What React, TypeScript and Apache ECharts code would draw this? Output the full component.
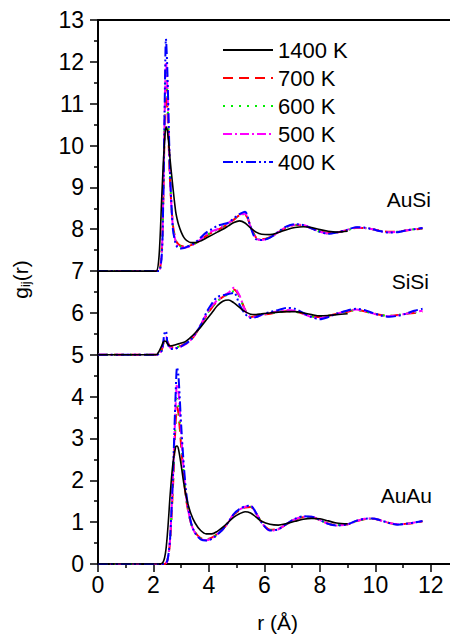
import { useEffect, useRef } from 'react';
import * as echarts from 'echarts';

// r grid (Å) shared by all curves; 1400 K curves stop at 9.0 Å
const R = [
  0, 2.0, 2.1, 2.2, 2.3,
  2.35, 2.4, 2.45, 2.5, 2.55, 2.6, 2.7, 2.8, 2.85, 2.9,
  3.0, 3.1, 3.2, 3.35, 3.5, 3.7, 3.9, 4.1, 4.3, 4.5,
  4.7, 4.9, 5.1, 5.3, 5.5, 5.7, 5.9, 6.2, 6.5, 6.8,
  7.1, 7.4, 7.7, 8.0, 8.3, 8.6, 9.0,
  9.3, 9.6, 9.9, 10.2, 10.5, 10.8, 11.1, 11.4, 11.7,
];

const TEMPS = ['1400 K', '700 K', '600 K', '500 K', '400 K'];

// AuSi (shifted by +7 in the figure)
const AUSI_1400 = [
  7, 7, 7, 7.35, 8.8,
  9.5, 10.1, 10.45, 10.35, 10.05, 9.66, 9.0, 8.42, 8.25, 8.12,
  7.93, 7.8, 7.73, 7.68, 7.68, 7.72, 7.79, 7.86, 7.93, 8.0,
  8.08, 8.16, 8.2, 8.15, 8.03, 7.93, 7.88, 7.87, 7.92, 7.99,
  8.04, 8.06, 8.04, 7.99, 7.95, 7.93, 7.95,
];
const AUSI_700 = [
  7, 7, 7, 7.0, 7.5,
  8.6, 10.3, 11.4, 10.9, 10.0, 9.1, 8.1, 7.75, 7.68, 7.64,
  7.6, 7.59, 7.6, 7.62, 7.66, 7.74, 7.84, 7.92, 7.98, 8.05,
  8.13, 8.23, 8.33, 8.34, 8.08, 7.8, 7.76, 7.81, 7.93, 8.04,
  8.1, 8.09, 8.02, 7.95, 7.91, 7.92, 7.98,
  8.03, 8.03, 8.0, 7.96, 7.94, 7.94, 7.97, 7.99, 8.02,
];
const AUSI_600 = [
  7, 7, 7, 7.0, 7.5,
  8.7, 10.5, 11.8, 11.2, 10.2, 9.2, 8.1, 7.72, 7.65, 7.62,
  7.58, 7.57, 7.58, 7.61, 7.66, 7.75, 7.85, 7.93, 7.99, 8.06,
  8.14, 8.24, 8.34, 8.36, 8.07, 7.79, 7.75, 7.8, 7.93, 8.05,
  8.1, 8.09, 8.02, 7.94, 7.9, 7.92, 7.98,
  8.04, 8.03, 8.0, 7.96, 7.93, 7.94, 7.97, 8.0, 8.02,
];
const AUSI_500 = [
  7, 7, 7, 7.0, 7.45,
  8.7, 10.6, 12.0, 11.4, 10.3, 9.2, 8.05, 7.7, 7.63, 7.6,
  7.57, 7.56, 7.57, 7.6, 7.66, 7.76, 7.87, 7.95, 8.0, 8.07,
  8.15, 8.25, 8.35, 8.37, 8.06, 7.78, 7.74, 7.8, 7.93, 8.06,
  8.11, 8.1, 8.02, 7.94, 7.9, 7.92, 7.99,
  8.04, 8.03, 8.0, 7.95, 7.93, 7.94, 7.97, 8.0, 8.03,
];
const AUSI_400 = [
  7, 7, 7, 7.0, 7.4,
  8.6, 10.8, 12.55, 11.8, 10.5, 9.3, 8.0, 7.65, 7.58, 7.55,
  7.54, 7.55, 7.58, 7.62, 7.68, 7.8, 7.92, 8.0, 8.08, 8.12,
  8.16, 8.26, 8.36, 8.42, 8.05, 7.76, 7.74, 7.8, 7.94, 8.07,
  8.12, 8.1, 8.02, 7.94, 7.89, 7.92, 7.99,
  8.05, 8.04, 8.0, 7.95, 7.92, 7.93, 7.97, 8.0, 8.03,
];

// SiSi (shifted by +5 in the figure)
const SISI_1400 = [
  5, 5, 5, 5.08, 5.22,
  5.3, 5.33, 5.32, 5.27, 5.23, 5.21, 5.22, 5.24, 5.25, 5.26,
  5.28, 5.3, 5.34, 5.42, 5.52, 5.66, 5.83, 6.0, 6.17, 6.28,
  6.31, 6.24, 6.13, 6.03, 5.97, 5.96, 5.98, 6.0, 6.02, 6.03,
  6.03, 6.0, 5.96, 5.93, 5.94, 5.96, 5.98,
];
const SISI_700 = [
  5, 5, 5, 5.02, 5.12,
  5.25, 5.35, 5.38, 5.32, 5.25, 5.2, 5.18, 5.18, 5.19, 5.2,
  5.22, 5.25, 5.28, 5.36, 5.48, 5.7, 5.93, 6.12, 6.28, 6.38,
  6.47, 6.56, 6.4, 6.08, 5.9, 5.92, 5.95, 5.98, 6.02, 6.04,
  6.03, 5.98, 5.92, 5.9, 5.93, 5.98, 6.03,
  6.07, 6.04, 5.99, 5.95, 5.93, 5.95, 5.98, 6.0, 6.02,
];
const SISI_600 = [
  5, 5, 5, 5.02, 5.12,
  5.26, 5.37, 5.4, 5.32, 5.24, 5.19, 5.17, 5.17, 5.18, 5.19,
  5.21, 5.24, 5.28, 5.36, 5.49, 5.71, 5.94, 6.13, 6.28, 6.37,
  6.45, 6.52, 6.38, 6.07, 5.91, 5.92, 5.96, 5.99, 6.02, 6.04,
  6.03, 5.98, 5.92, 5.9, 5.93, 5.98, 6.04,
  6.07, 6.04, 5.99, 5.95, 5.93, 5.95, 5.98, 6.01, 6.03,
];
const SISI_500 = [
  5, 5, 5, 5.02, 5.11,
  5.26, 5.4, 5.43, 5.31, 5.22, 5.17, 5.16, 5.16, 5.17, 5.18,
  5.2, 5.23, 5.27, 5.36, 5.49, 5.72, 5.96, 6.16, 6.3, 6.4,
  6.48, 6.6, 6.42, 6.07, 5.9, 5.91, 5.95, 6.0, 6.04, 6.07,
  6.05, 5.98, 5.9, 5.88, 5.92, 5.98, 6.05,
  6.08, 6.05, 5.99, 5.94, 5.92, 5.94, 5.98, 6.02, 6.05,
];
const SISI_400 = [
  5, 5, 5, 5.02, 5.1,
  5.3, 5.52, 5.57, 5.3, 5.2, 5.15, 5.14, 5.15, 5.16, 5.17,
  5.2, 5.24, 5.28, 5.36, 5.5, 5.7, 6.0, 6.22, 6.38, 6.42,
  6.45, 6.48, 6.2, 5.98, 5.88, 5.9, 5.96, 6.02, 6.07, 6.12,
  6.1, 6.0, 5.9, 5.85, 5.9, 5.98, 6.06,
  6.1, 6.07, 6.0, 5.94, 5.91, 5.93, 5.98, 6.05, 6.1,
];

// AuAu (no shift)
const AUAU_1400 = [
  0, 0, 0, 0, 0.01,
  0.05, 0.15, 0.35, 0.7, 1.15, 1.65, 2.4, 2.8, 2.82, 2.75,
  2.35, 1.9, 1.55, 1.2, 0.98, 0.8, 0.72, 0.72, 0.78, 0.88,
  1.0, 1.12, 1.2, 1.25, 1.22, 1.12, 1.02, 0.95, 0.93, 0.97,
  1.02, 1.07, 1.09, 1.08, 1.03, 0.98, 0.96,
];
const AUAU_700 = [
  0, 0, 0, 0, 0,
  0, 0, 0.02, 0.08, 0.25, 0.55, 1.8, 3.4, 3.75, 3.6,
  2.8, 2.0, 1.45, 0.98, 0.76, 0.62, 0.59, 0.63, 0.72, 0.83,
  1.0, 1.18, 1.28, 1.35, 1.36, 1.2, 1.0, 0.82, 0.84, 0.95,
  1.06, 1.12, 1.12, 1.05, 0.97, 0.93, 0.95,
  1.02, 1.07, 1.08, 1.04, 0.98, 0.95, 0.96, 0.98, 1.02,
];
const AUAU_600 = [
  0, 0, 0, 0, 0,
  0, 0, 0.02, 0.08, 0.26, 0.58, 1.9, 3.55, 3.95, 3.8,
  2.95, 2.08, 1.48, 0.98, 0.75, 0.61, 0.58, 0.62, 0.71, 0.83,
  1.0, 1.19, 1.29, 1.36, 1.37, 1.2, 0.99, 0.81, 0.84, 0.96,
  1.07, 1.13, 1.12, 1.05, 0.96, 0.93, 0.95,
  1.02, 1.07, 1.08, 1.04, 0.98, 0.95, 0.96, 0.99, 1.02,
];
const AUAU_500 = [
  0, 0, 0, 0, 0,
  0, 0, 0.02, 0.08, 0.27, 0.6, 2.0, 3.8, 4.3, 4.15,
  3.1, 2.15, 1.5, 0.98, 0.74, 0.6, 0.57, 0.61, 0.71, 0.83,
  1.0, 1.2, 1.3, 1.37, 1.38, 1.21, 0.99, 0.8, 0.83, 0.96,
  1.07, 1.13, 1.13, 1.05, 0.96, 0.92, 0.95,
  1.02, 1.08, 1.09, 1.04, 0.98, 0.95, 0.96, 0.99, 1.02,
];
const AUAU_400 = [
  0, 0, 0, 0, 0,
  0, 0, 0.02, 0.08, 0.28, 0.62, 2.1, 4.1, 4.7, 4.5,
  3.3, 2.3, 1.6, 1.0, 0.74, 0.59, 0.56, 0.6, 0.7, 0.83,
  1.0, 1.2, 1.31, 1.38, 1.39, 1.22, 0.99, 0.8, 0.83, 0.96,
  1.08, 1.14, 1.13, 1.05, 0.96, 0.92, 0.95,
  1.03, 1.08, 1.09, 1.04, 0.98, 0.94, 0.96, 0.99, 1.03,
];

const GROUP_LABELS = ['AuSi', 'SiSi', 'AuAu'];
const GROUPS = [
  [AUSI_1400, AUSI_700, AUSI_600, AUSI_500, AUSI_400],
  [SISI_1400, SISI_700, SISI_600, SISI_500, SISI_400],
  [AUAU_1400, AUAU_700, AUAU_600, AUAU_500, AUAU_400],
];

const X_TICKS = [0, 2, 4, 6, 8, 10, 12];

const FONT = '"Liberation Sans", Arial, sans-serif';

const STYLES: any[] = [
  { color: '#000000', width: 1.6, type: 'solid', z: 5 },
  { color: '#ff0000', width: 2, type: [10, 6], z: 2 },
  { color: '#00ee00', width: 2, type: [2, 6], z: 2 },
  { color: '#ff00ff', width: 2, type: [9, 3, 2, 3], z: 2 },
  { color: '#0000ff', width: 2, type: [10, 3, 2, 3, 2, 3], z: 3 },
];

export default function App() {
  const ref = useRef<HTMLDivElement>(null);

  useEffect(() => {
    document.body.style.margin = '0';
    if (!ref.current) return;
    const chart = echarts.init(ref.current, undefined, { renderer: 'svg' });

    const series: any[] = [];
    GROUPS.forEach((curves) => {
      curves.forEach((vals, ti) => {
        const st = STYLES[ti];
        series.push({
          type: 'line',
          name: TEMPS[ti],
          data: vals.map((v, i) => [R[i], v]),
          symbol: 'none',
          showSymbol: false,
          smooth: 0.3,
          z: st.z,
          lineStyle: { color: st.color, width: st.width, type: st.type },
          itemStyle: { color: st.color },
          emphasis: { disabled: true },
        });
      });
    });

    const unit = 27.74;

    chart.setOption({
      animation: false,
      backgroundColor: '#ffffff',
      grid: { left: 98, top: 20, width: 14 * unit, height: 546, containLabel: false },
      legend: {
        data: TEMPS,
        orient: 'vertical',
        left: 222,
        top: 39,
        padding: 0,
        itemWidth: 50,
        itemHeight: 14,
        itemGap: 6,
        selectedMode: false,
        itemStyle: { opacity: 0 },
        textStyle: { fontSize: 22, fontFamily: FONT, color: '#000', lineHeight: 21 },
      },
      xAxis: [
        {
          type: 'value',
          min: 0,
          max: 14,
          interval: 2,
          name: 'r (Å)',
          nameLocation: 'middle',
          nameGap: 48,
          nameTextStyle: { fontSize: 21, fontFamily: FONT, color: '#000', padding: [0, 29, 0, 0] },
          axisLine: { show: true, onZero: false, lineStyle: { color: '#000', width: 2 } },
          axisTick: { show: true, inside: false, length: 8, lineStyle: { color: '#000', width: 1.5 } },
          minorTick: { show: true, splitNumber: 2, length: 4, lineStyle: { color: '#000', width: 1.5 } },
          splitLine: { show: false },
          axisLabel: {
            fontSize: 23,
            fontFamily: FONT,
            color: '#000',
            margin: 9,
            formatter: (v: number) => (X_TICKS.indexOf(v) >= 0 ? String(v) : ''),
          },
        },
        {
          type: 'value',
          position: 'top',
          min: 0,
          max: 14,
          axisLine: { show: true, onZero: false, lineStyle: { color: '#000', width: 2 } },
          axisTick: { show: false },
          axisLabel: { show: false },
          splitLine: { show: false },
        },
      ],
      yAxis: {
        type: 'value',
        min: 0,
        max: 13,
        interval: 1,
        name: '{g|g}{s|ij}{g|(r)}',
        nameLocation: 'middle',
        nameGap: 66,
        nameTextStyle: {
          padding: [0, 0, 0, 25],
          rich: {
            g: { fontSize: 21, fontFamily: FONT, color: '#000' },
            s: { fontSize: 13, fontFamily: FONT, color: '#000', padding: [10, 0, 0, 0] },
          },
        },
        axisLine: { show: true, onZero: false, lineStyle: { color: '#000', width: 2 } },
        axisTick: { show: true, inside: false, length: 8, lineStyle: { color: '#000', width: 1.5 } },
        minorTick: { show: true, splitNumber: 2, length: 4, lineStyle: { color: '#000', width: 1.5 } },
        splitLine: { show: false },
        axisLabel: { fontSize: 23, fontFamily: FONT, color: '#000', margin: 14 },
      },
      graphic: [
        { type: 'text', x: 431, y: 199, style: { text: GROUP_LABELS[0], fontSize: 21, fontFamily: FONT, fill: '#000', align: 'right', verticalAlign: 'middle' } },
        { type: 'text', x: 429, y: 281, style: { text: GROUP_LABELS[1], fontSize: 21, fontFamily: FONT, fill: '#000', align: 'right', verticalAlign: 'middle' } },
        { type: 'text', x: 432, y: 495, style: { text: GROUP_LABELS[2], fontSize: 21, fontFamily: FONT, fill: '#000', align: 'right', verticalAlign: 'middle' } },
      ],
      series,
    });

    return () => chart.dispose();
  }, []);

  return (
    <div style={{ width: 450, height: 638, overflow: 'hidden', position: 'relative' }}>
      <div ref={ref} style={{ width: 500, height: 638 }} />
    </div>
  );
}
